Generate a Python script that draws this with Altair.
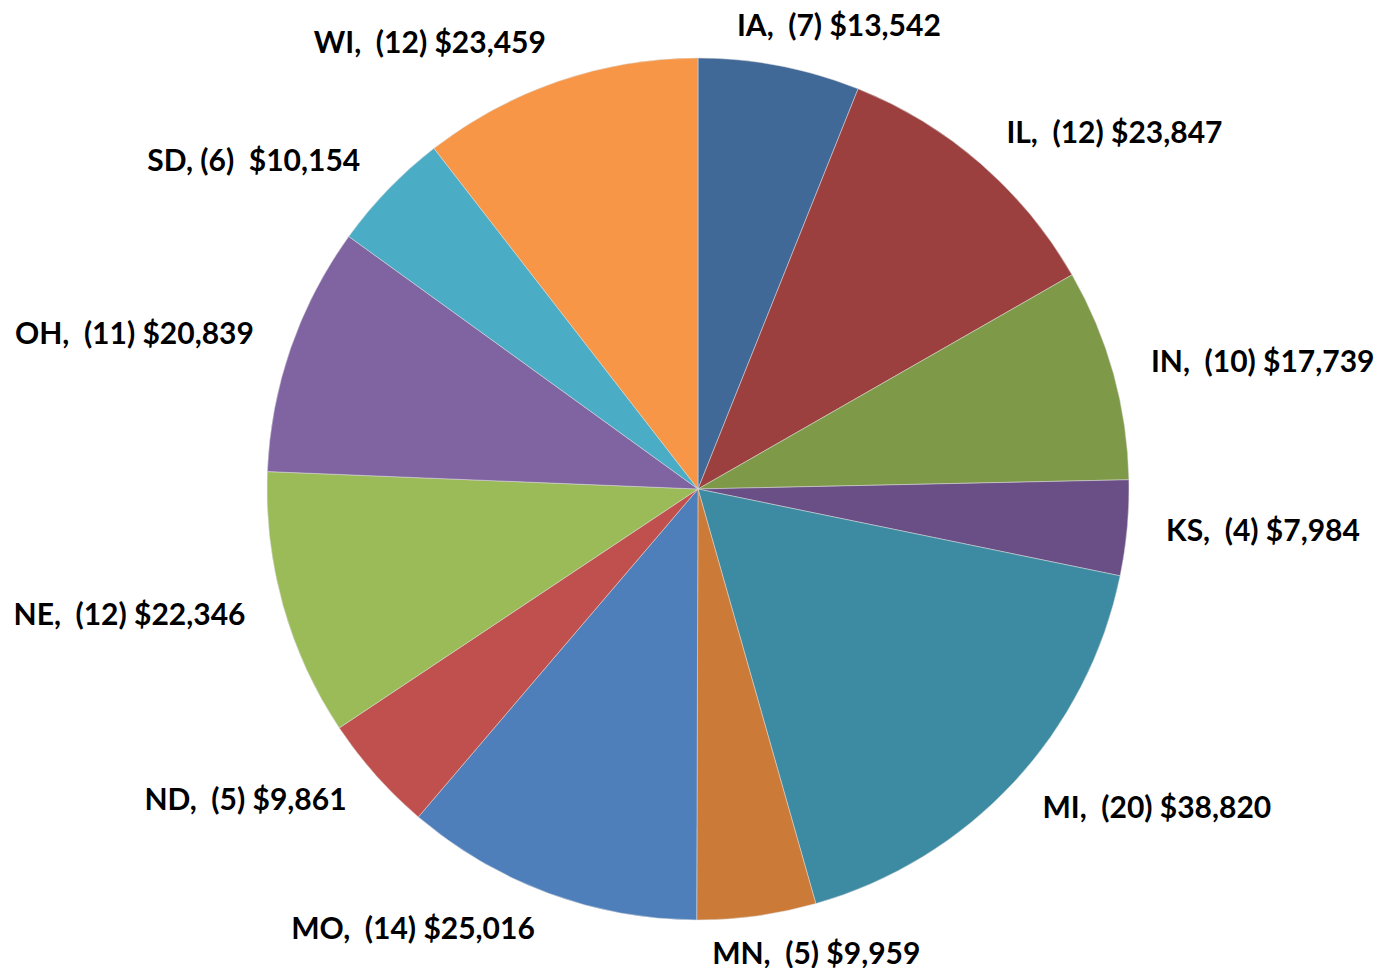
import altair as alt
import pandas as pd

NB = "\u00a0"
states = ["IA", "IL", "IN", "KS", "MI", "MN", "MO", "ND", "NE", "OH", "SD", "WI"]
counts = [7, 12, 10, 4, 20, 5, 14, 5, 12, 11, 6, 12]
amounts = [13542, 23847, 17739, 7984, 38820, 9959, 25016, 9861, 22346, 20839, 10154, 23459]
labels = ["IA,  (7) $13,542", "IL,  (12) $23,847", "IN,  (10) $17,739", "KS,  (4) $7,984",
          "MI,  (20) $38,820", "MN,  (5) $9,959", "MO,  (14) $25,016", "ND,  (5) $9,861",
          "NE,  (12) $22,346", "OH,  (11) $20,839", "SD, (6)  $10,154", "WI,  (12) $23,459"]
colors = ["#406998", "#9B403E", "#7E9A48", "#6A4F86", "#3D8BA2", "#CB7A37",
          "#4E7FBB", "#C0504D", "#9BBB59", "#8064A2", "#4BACC6", "#F79646"]

df = pd.DataFrame({"state": states, "count": counts, "amount": amounts,
                   "label": [l.replace(" ", NB) for l in labels],
                   "order": list(range(len(states)))})

total = float(sum(amounts))
theta_scale = alt.Scale(domain=[0, total])

base = alt.Chart(df)

pie = base.mark_arc(outerRadius=431, stroke="#dddddd", strokeWidth=0.5).encode(
    theta=alt.Theta("amount:Q", stack=True, scale=theta_scale),
    color=alt.Color("state:N", scale=alt.Scale(domain=states, range=colors), legend=None),
    order=alt.Order("order:Q"),
)

lab = base.transform_window(
    cum="sum(amount)", sort=[alt.SortField("order")]
).transform_calculate(
    frac="(datum.cum - datum.amount / 2) / %f" % total,
    mid="datum.cum - datum.amount / 2",
).transform_calculate(
    side="(datum.frac < 0.06 || (datum.frac > 0.44 && datum.frac < 0.5)) ? 'V' : (datum.frac < 0.5 ? 'R' : 'L')"
)

font = dict(font="Lato", fontWeight="bold", fontSize=30, color="black", baseline="middle", radius=470)
enc = dict(theta=alt.Theta("mid:Q", stack=None, scale=theta_scale), text="label:N")

right = lab.transform_filter("datum.side == 'R'").mark_text(align="left", **font).encode(**enc)
vert = lab.transform_filter("datum.side == 'V'").mark_text(align="left", dx=-50, **font).encode(**enc)
left = lab.transform_filter("datum.side == 'L'").mark_text(align="right", **font).encode(**enc)

chart = alt.layer(pie, right, vert, left).properties(
    width=1356, height=958,
    padding={"left": 12, "top": 2, "right": 0, "bottom": 0},
    autosize=alt.AutoSizeParams(type="none"),
).configure_view(stroke=None)

chart.save("out.html", embed_options={"renderer": "svg", "actions": False})
